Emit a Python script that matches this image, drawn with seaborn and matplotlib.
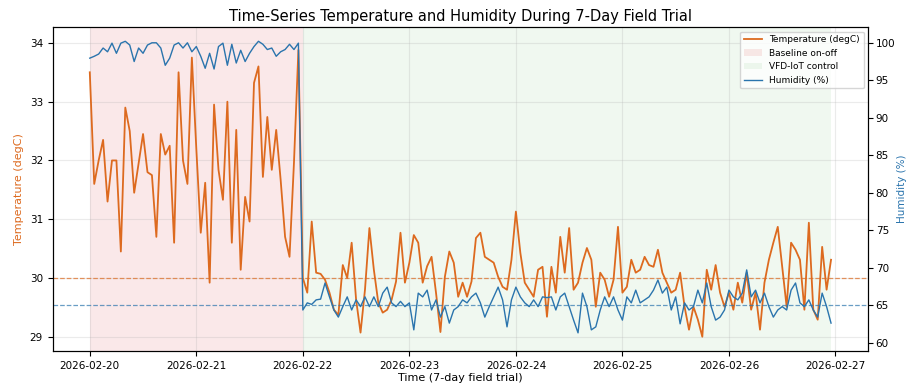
import matplotlib
matplotlib.use("Agg")
import matplotlib.pyplot as plt
import matplotlib.dates as mdates
import seaborn as sns
import pandas as pd

# Hourly field-trial readings, 2026-02-20 00:00 onward
start = "2026-02-20 00:00"
baseline_hours = 48

temperature_c = [
    33.5, 31.6, 32.0, 32.35, 31.3, 32.0, 32.0, 30.45, 32.9, 32.5, 31.45, 31.95,
    32.45, 31.8, 31.75, 30.7, 32.45, 32.1, 32.25, 30.6, 33.5, 32.0, 31.6, 33.75,
    32.2, 30.77, 31.62, 29.92, 32.95, 31.84, 31.33, 33.0, 30.6, 32.52, 30.14, 31.38,
    30.96, 33.32, 33.6, 31.72, 32.74, 31.84, 32.52, 31.67, 30.7, 30.36, 31.96, 33.88,
    30.0, 29.75, 30.96, 30.09, 30.07, 29.97, 29.75, 29.46, 29.37, 30.22, 30.0, 30.6,
    29.63, 29.07, 29.8, 30.85, 30.14, 29.58, 29.41, 29.46, 29.63, 29.94, 30.77, 29.92,
    30.26, 30.73, 30.6, 29.92, 30.2, 30.36, 29.75, 29.08, 30.02, 30.45, 30.26, 29.68,
    29.92, 29.68, 29.94, 30.68, 30.77, 30.36, 30.31, 30.26, 30.02, 29.85, 29.8, 30.31,
    31.13, 30.43, 29.92, 29.8, 29.68, 30.14, 30.19, 29.34, 30.19, 29.75, 30.7, 30.09,
    30.85, 29.8, 29.92, 30.26, 30.51, 30.31, 29.51, 30.09, 29.97, 29.68, 29.97, 30.87,
    29.75, 29.85, 30.31, 30.09, 30.14, 30.36, 30.22, 30.19, 30.48, 30.09, 29.92, 29.75,
    29.8, 30.09, 29.51, 29.12, 29.51, 29.29, 29.0, 30.14, 29.8, 30.22, 29.75, 29.51,
    29.75, 29.46, 29.92, 29.58, 30.09, 29.46, 29.75, 29.12, 29.92, 30.31, 30.6, 30.87,
    30.19, 29.51, 30.6, 30.48, 30.31, 29.46, 30.94, 29.46, 29.29, 30.53, 29.8, 30.31,
]

humidity_pct = [
    97.95, 98.2, 98.5, 99.3, 98.8, 99.95, 98.6, 99.95, 100.2, 99.7, 97.5, 99.3,
    98.6, 99.7, 100.0, 100.0, 99.3, 97.0, 97.95, 99.7, 100.0, 99.3, 100.0, 98.8,
    99.5, 98.2, 96.6, 98.6, 96.5, 99.5, 99.95, 97.0, 99.8, 97.3, 99.0, 97.5,
    98.6, 99.5, 100.2, 99.8, 99.1, 99.3, 98.2, 98.8, 99.1, 99.8, 99.1, 99.95,
    64.35, 65.3, 65.1, 65.7, 65.8, 67.95, 66.1, 64.35, 63.4, 64.8, 66.1, 64.35,
    65.7, 64.8, 66.1, 64.8, 66.1, 64.8, 66.6, 67.4, 65.3, 64.8, 65.5, 64.8,
    65.3, 61.7, 66.6, 66.1, 67.0, 64.35, 65.7, 63.4, 64.8, 62.6, 64.35, 64.8,
    65.7, 65.3, 66.1, 66.6, 65.3, 63.4, 64.8, 66.1, 67.4, 65.7, 62.1, 65.7,
    67.4, 66.1, 65.3, 64.8, 65.7, 64.8, 66.1, 66.0, 66.1, 64.35, 66.1, 66.6,
    64.8, 63.0, 61.3, 66.6, 64.8, 61.7, 62.1, 64.35, 66.1, 64.8, 66.1, 64.35,
    63.0, 66.1, 65.3, 67.0, 65.3, 65.7, 66.1, 67.0, 68.35, 66.6, 67.4, 64.35,
    66.1, 62.5, 65.3, 64.35, 64.8, 67.0, 65.3, 67.95, 64.8, 63.0, 63.4, 64.35,
    67.0, 66.1, 65.7, 66.6, 69.7, 66.1, 67.0, 65.3, 66.6, 64.8, 63.4, 64.35,
    64.8, 64.35, 67.0, 67.95, 65.3, 64.8, 65.7, 64.35, 63.4, 66.6, 64.8, 62.6,
]

temp_target = 30.0
humidity_target = 65.0

times = pd.date_range(start, periods=len(temperature_c), freq="h")
df = pd.DataFrame({"time": times, "temp": temperature_c, "hum": humidity_pct})

temp_color = "#dd6a1f"
hum_color = "#2a74ad"

fig, ax = plt.subplots(figsize=(9.09, 3.92), dpi=100)
fig.subplots_adjust(left=0.058, right=0.955, bottom=0.105, top=0.931)

# Operating-mode periods
span_base = ax.axvspan(times[0], times[baseline_hours], color="tab:red", alpha=0.1,
                       lw=0, label="Baseline on-off")
span_vfd = ax.axvspan(times[baseline_hours], times[-1], color="tab:green", alpha=0.07,
                      lw=0, label="VFD-IoT control")

sns.lineplot(data=df, x="time", y="temp", ax=ax, color=temp_color, lw=1.3,
             label="Temperature (degC)", legend=False)
ax.axhline(temp_target, color=temp_color, ls="--", lw=0.9, alpha=0.7)
ax.set_ylim(28.76, 34.27)
ax.set_ylabel("Temperature (degC)", color=temp_color, fontsize=8)
ax.set_xlabel("Time (7-day field trial)", fontsize=8, labelpad=2)
ax.grid(True, alpha=0.25, lw=0.8)

ax2 = ax.twinx()
sns.lineplot(data=df, x="time", y="hum", ax=ax2, color=hum_color, lw=1.0,
             label="Humidity (%)", legend=False)
ax2.axhline(humidity_target, color=hum_color, ls="--", lw=0.9, alpha=0.7)
ax2.set_ylim(58.9, 102.1)
ax2.set_ylabel("Humidity (%)", color=hum_color, fontsize=7.5, labelpad=1)

ax.xaxis.set_major_locator(mdates.DayLocator())
ax.xaxis.set_major_formatter(mdates.DateFormatter("%Y-%m-%d"))
for a in (ax, ax2):
    a.tick_params(labelsize=7.5)
ax2.tick_params(axis="y", pad=2)

ax.set_title("Time-Series Temperature and Humidity During 7-Day Field Trial",
             fontsize=10.5, pad=4)

h1, l1 = ax.get_legend_handles_labels()
h2, l2 = ax2.get_legend_handles_labels()
order = ["Temperature (degC)", "Baseline on-off", "VFD-IoT control"]
hmap = dict(zip(l1, h1))
handles = [hmap[k] for k in order] + h2
labels = order + l2
ax2.legend(handles, labels, loc="upper right", fontsize=6.5, framealpha=0.8)

fig.savefig("out.png", dpi=100)
